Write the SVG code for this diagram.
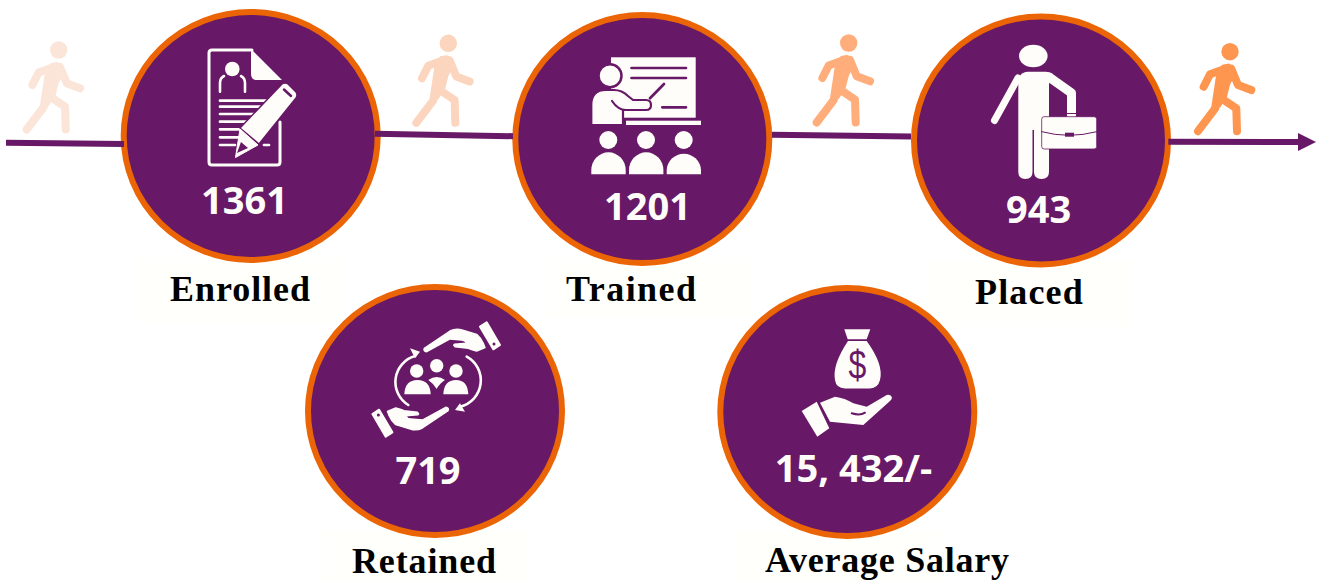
<svg xmlns="http://www.w3.org/2000/svg" xmlns:xlink="http://www.w3.org/1999/xlink" width="1318" height="582" viewBox="0 0 1318 582">
<style>
.disc{fill:#671866;stroke:#EB6405;stroke-width:6}
.num{font-family:"Open Sans","Noto Sans",sans-serif;font-weight:700;font-size:38px;fill:#FFFDF9;text-anchor:middle}
.lab{font-family:"Liberation Serif",serif;font-weight:700;font-size:36px;fill:#000}
.paper{fill:#FFFFFC}
.ic{fill:#FFFDF9}
.icl{fill:none;stroke:#FFFDF9;stroke-linecap:round;stroke-linejoin:round}
.cut{fill:none;stroke:#671866;stroke-linecap:round;stroke-linejoin:round}
.cutf{fill:#671866}
.conn{fill:none;stroke:#671866;stroke-width:6}
.limb{fill:none;stroke-width:8;stroke-linecap:round;stroke-linejoin:round}
</style>
<defs>
<marker id="arrow" markerUnits="userSpaceOnUse" markerWidth="18" markerHeight="18" refX="0" refY="9" orient="auto"><polygon points="0,0 18,9 0,18" fill="#671866"/></marker>
<g id="walker">
<circle cx="0" cy="0" r="8.7" stroke="none"/>
<path class="limb" d="M-2,16 L-20,22.5 L-26.3,35"/>
<path class="limb" d="M1.3,17 L8,33.3 L21.3,38.3"/>
<path class="limb" d="M-15,57 L-32,79.5"/>
<path class="limb" d="M-8.7,46.7 L6.3,56.7 L7,79.5"/>
<path stroke="none" d="M-8,13 Q0,11 3,17 L3,27 L0,33 L-3,45 L-10,56 L-19,57 L-14,24Z"/>
</g>
<g id="hand">
<path class="ic" stroke="#FFFDF9" stroke-width="1.4" stroke-linejoin="round" d="M424.3,348.3 L450,331 Q456,328 462,330 L476.7,334.3 Q481,338 483.3,343.3 L485,347.7 L476.7,351 Q472,350 468.3,348.3 L455,346.7 Q453,345 454.3,344.3 L466.7,343.3 Q465,340 461.7,340 L450,339 L426.7,351.7 Q423,351 424.3,348.3Z"/>
<path class="ic" d="M480,326.7 L486.7,322.3 L500,345 L493.3,349.3Z" stroke="#FFFDF9" stroke-width="2" stroke-linejoin="round"/>
<circle class="cutf" cx="494" cy="344" r="1.5"/>
</g>
</defs>
<rect width="1318" height="582" fill="#fff"/>

<g id="walkers">
<use xlink:href="#walker" href="#walker" x="58.7" y="50" fill="#FBE5D8" stroke="#FBE5D8"/>
<use xlink:href="#walker" href="#walker" x="448.3" y="43.3" fill="#FBD5BE" stroke="#FBD5BE"/>
<use xlink:href="#walker" href="#walker" x="848.7" y="43" fill="#FFAD7A" stroke="#FFAD7A"/>
<use xlink:href="#walker" href="#walker" x="1230" y="51.7" fill="#FF9650" stroke="#FF9650"/>
</g>

<g id="enrolled">
<rect class="paper" x="138" y="257" width="205" height="65"/>
<ellipse class="disc" cx="250.7" cy="136" rx="127" ry="124"/>
<path class="icl" stroke-width="3" d="M252,50 H212 Q209,50 209,53 V162 Q209,165 212,165 H277 Q280,165 280,162 V122"/>
<path class="ic" d="M251,49 L282,80 H257 Q251,80 251,74Z"/>
<circle class="ic" cx="232.3" cy="69" r="7.3"/>
<path class="icl" stroke-width="2.6" d="M220,91.7 V83 Q220,78 224,76 M245,91.7 V83 Q245,78 241,76"/>
<path class="icl" stroke-width="2.7" stroke-linecap="butt" d="M220,100.7H266M220,106.7H261.7M220,114H258M220,121.7H253M220,129.3H248M220,137.3H243M220,145H235M264,145H269"/>
<path class="ic" d="M282,84 Q285,82 288,84 L296,92 Q298,95 296,98 L259,144 L240,128Z" stroke="#671866" stroke-width="1.5" stroke-linejoin="round"/>
<path class="ic" d="M240,129 L258,145 L235.5,157.5Z" stroke="#FFFDF9" stroke-width="1" stroke-linejoin="round"/>
<path class="cut" stroke-width="2.5" d="M284,89.5 L291,96"/>
<polygon class="cutf" points="241,142 248,148 237,153"/>
<text class="num" x="244.5" y="214">1361</text>
<text class="lab" x="170" y="301" textLength="140" lengthAdjust="spacing">Enrolled</text>
</g>

<g id="trained">
<rect class="paper" x="545" y="257" width="206" height="61"/>
<ellipse class="disc" cx="642.3" cy="139" rx="127" ry="124"/>
<rect class="ic" x="611" y="57.3" width="84.7" height="60.4"/>
<rect class="ic" x="626" y="120.7" width="75" height="4.3"/>
<path class="cut" stroke-width="2.7" d="M631.5,68H686M631.5,78H686M662.3,107.3H686M650,98.3L664,84"/>
<circle class="ic" cx="610" cy="75.7" r="11.5" stroke="#671866" stroke-width="2.5"/>
<path class="ic" stroke="#671866" stroke-width="2.2" stroke-linejoin="round" d="M591.3,125 V105 Q591.3,90 606,90 H614 Q622,90 628,96 L633,100 H646 Q651,100 651,105 Q651,110 646,110 H623 V125Z"/>
<path class="cut" stroke-width="2.2" d="M612,101 Q618,110 626,110"/>
<g id="audience" class="ic">
<circle cx="608.3" cy="140" r="9"/><circle cx="646" cy="140" r="9"/><circle cx="683.7" cy="140" r="9"/>
<path d="M591.3,174.3 V170 A17.2,17.7 0 0 1 625.7,170 V174.3Z"/>
<path d="M629,174.3 V170 A17.2,17.7 0 0 1 663.4,170 V174.3Z"/>
<path d="M666.7,174.3 V170 A17.2,17.7 0 0 1 701,170 V174.3Z"/>
</g>
<text class="num" x="647.5" y="219.5">1201</text>
<text class="lab" x="566" y="301" textLength="130" lengthAdjust="spacing">Trained</text>
</g>

<g id="placed">
<rect class="paper" x="925" y="260" width="206" height="67"/>
<ellipse class="disc" cx="1041" cy="140.5" rx="127" ry="124"/>
<ellipse class="ic" cx="1033.3" cy="56" rx="14.3" ry="11.3"/>
<path class="ic" d="M1018.3,84 Q1018,72 1028,71.7 H1046 Q1050,72 1053,74 L1049,84 V172 Q1049,179 1041.5,179 Q1034,179 1034,172 V130 H1032.5 V172 Q1032.5,179 1025.4,179 Q1018.3,179 1018.3,172Z"/>
<path class="icl" stroke-width="7" d="M1018,78 L994.5,120.5"/>
<path class="icl" stroke-width="9" stroke-linecap="butt" d="M1049,77 L1071.5,93 V115"/>
<path class="cut" stroke-width="1.2" d="M1062.7,116 Q1063,113.3 1066,113.5 M1078.3,116 Q1078,113.3 1075,113.5 M1066,113.5 H1075"/>
<rect class="ic" x="1041.7" y="116.7" width="55" height="32.3" rx="2.5" stroke="#671866" stroke-width="0.8"/>
<path class="cut" stroke-width="1" d="M1041.7,131.7 Q1069,139 1096.7,131.7"/>
<rect class="cutf" x="1065" y="132.7" width="9" height="4"/>
<text class="num" x="1038.7" y="223">943</text>
<text class="lab" x="975" y="304" textLength="107.7" lengthAdjust="spacing">Placed</text>
</g>

<g id="retained">
<rect class="paper" x="321" y="530" width="206" height="52"/>
<ellipse class="disc" cx="435" cy="411" rx="127" ry="124"/>
<use xlink:href="#hand" href="#hand"/>
<use xlink:href="#hand" href="#hand" transform="rotate(180 436.2 379.5)"/>
<path class="icl" stroke-width="2.6" stroke-linecap="butt" d="M408.3,405 A27,27 0 0 1 415,356 M466.7,356.7 A27,27 0 0 1 460,406.7"/>
<polygon class="ic" points="410,348.3 420,351.7 415,358.3"/>
<polygon class="ic" points="455,410 465,411.7 460,403.3"/>
<circle class="ic" cx="416.7" cy="371" r="6.7"/>
<circle class="ic" cx="436.7" cy="365.7" r="6.7"/>
<circle class="ic" cx="456" cy="371" r="6.7"/>
<path class="ic" d="M404.3,394.3 Q405,380 417.5,380 Q430,380 430.7,394.3Z"/>
<path class="ic" d="M443.3,394.3 Q444,380 456,380 Q467.6,380 468.3,394.3Z"/>
<path class="ic" d="M428.3,380 Q436.7,374 445,380 Q439,384 436.7,389 Q434,384 428.3,380Z"/>
<text class="num" x="428" y="484">719</text>
<text class="lab" x="352" y="572.7" textLength="144" lengthAdjust="spacing">Retained</text>
</g>

<g id="salary">
<rect class="paper" x="735" y="530" width="206" height="52"/>
<ellipse class="disc" cx="847.3" cy="412" rx="127" ry="124"/>
<polygon class="ic" points="844.3,329.3 870.3,329.3 866.7,339.3 847.7,339.3"/>
<path class="ic" d="M848,341 H866.7 Q884,365 880,380 Q878,388 870,388.5 H845 Q836,388 835,380 Q832,365 848,341Z"/>
<text transform="translate(857.5 378.5) scale(0.8 1)" font-family="Liberation Sans,sans-serif" font-size="40" text-anchor="middle" fill="#671866">$</text>
<polygon class="ic" points="801.7,411 816.7,401.7 829.3,428.3 817.3,436.7"/>
<path class="ic" d="M820,402.7 L835,396.7 Q845,398 853.3,403.3 L866.7,406.7 L886.7,395 Q891,394 892,397.5 Q892,399 890,401 L863.3,425 L830,421.7Z"/>
<path class="cut" stroke-width="2" d="M851.7,413.3 Q860,416 865,412.7"/>
<text class="num" x="853.5" y="482">15, 432/-</text>
<text class="lab" x="765" y="571.7" textLength="244" lengthAdjust="spacing">Average Salary</text>
</g>

<g id="connectors">
<line class="conn" x1="6" y1="142.8" x2="124" y2="144"/>
<line class="conn" x1="375" y1="133.8" x2="513" y2="136.2"/>
<line class="conn" x1="772" y1="134.7" x2="911" y2="136.4"/>
<line class="conn" x1="1168.3" y1="141.7" x2="1298" y2="142" marker-end="url(#arrow)"/>
</g>
</svg>
